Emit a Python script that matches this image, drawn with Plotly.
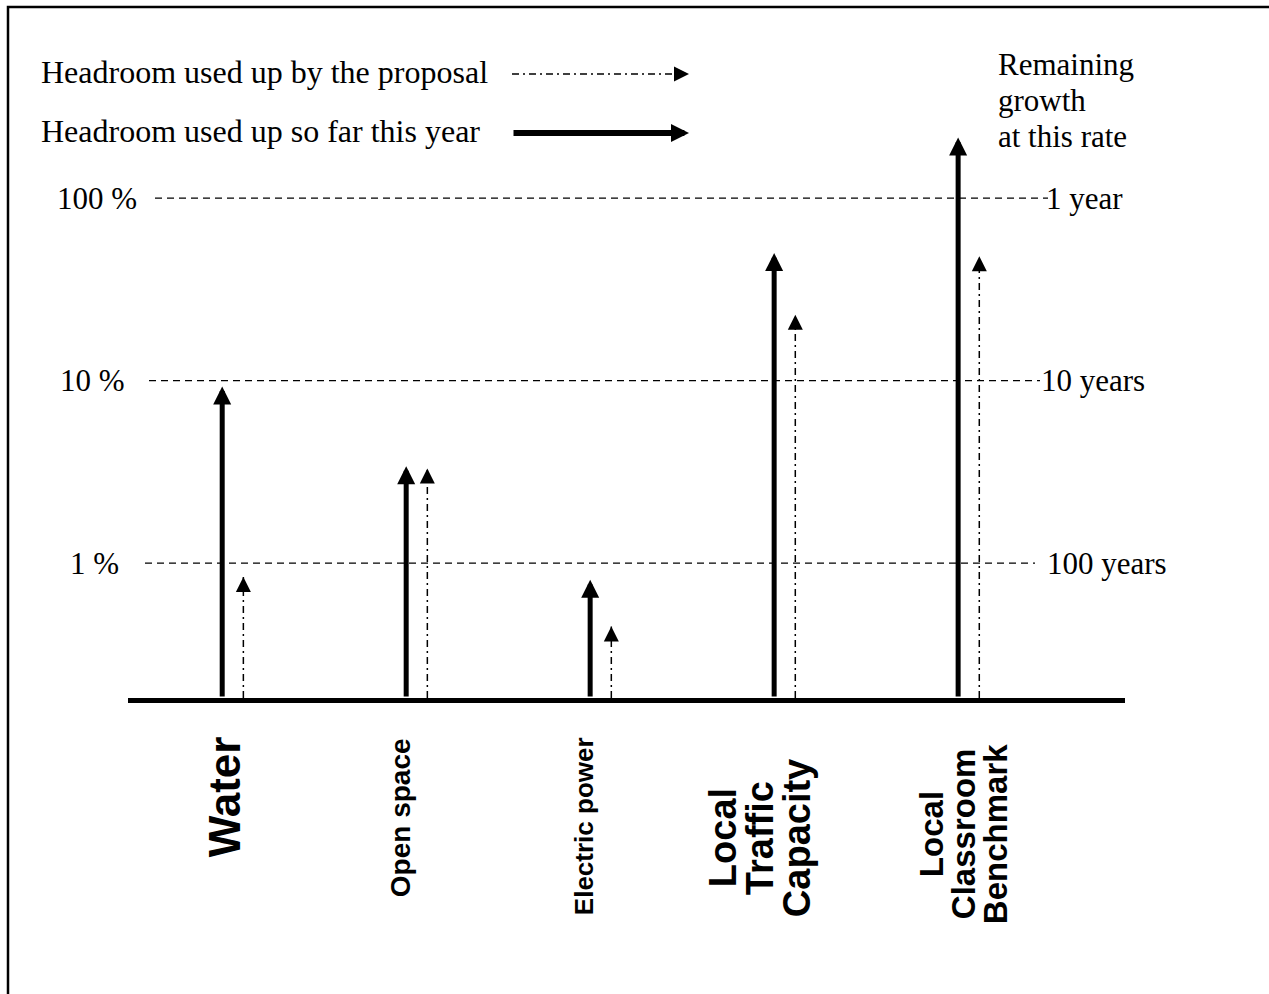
import numpy as np
import plotly.graph_objects as go

# ---------------- data ----------------
categories = ["Water", "Open space", "Electric power",
              "Local<br>Traffic<br>Capacity", "Local<br>Classroom<br>Benchmark"]
used_so_far = [9.3, 3.4, 0.81, 50, 215]        # % of headroom used so far this year
used_by_proposal = [0.84, 3.3, 0.45, 23, 48]    # % of headroom used by the proposal
grid_values = [1, 10, 100]
pct_labels = ["1 %", "10 %", "100 %"]
year_labels = ["100 years", "10 years", "1 year"]
legend_labels = ["Headroom used up by the proposal", "Headroom used up so far this year"]
right_title = ["Remaining", "growth", "at this rate"]

# ---------------- layout geometry ----------------
W, H = 1269, 994
ML, MR, MT, MB = 128, 144, 100, 296
PW, PH = W - ML - MR, H - MT - MB
Y_RANGE = [-0.7388, 2.5378]
X_RANGE = [-0.512, 4.907]
BASE = 10 ** Y_RANGE[0]
DX = 0.115  # offset of proposal arrow from category centre

def pxx(x):
    return (x - ML) / PW

def pxy(y):
    return (H - MB - y) / PH

SERIF = "Liberation Serif, Times New Roman, serif"
SANS = "Liberation Sans, Arial, sans-serif"
DASHDOT = "7px,4px,2px,4px"

fig = go.Figure()
shapes = []
annotations = []

# proposal stems (dash-dot)
for i, v in enumerate(used_by_proposal):
    fig.add_trace(go.Scatter(x=[i + DX, i + DX], y=[BASE, v], mode="lines",
                             line=dict(color="black", width=1.5, dash=DASHDOT),
                             hoverinfo="skip", showlegend=False))
    annotations.append(dict(x=i + DX, y=np.log10(v), xref="x", yref="y", text="",
                            showarrow=True, ax=0, ay=15, axref="pixel", ayref="pixel",
                            arrowhead=2, arrowwidth=1.5, arrowsize=2, arrowcolor="black",
                            font=dict(size=1)))

# used-so-far arrows (solid)
for i, v in enumerate(used_so_far):
    annotations.append(dict(x=i, y=np.log10(v), xref="x", yref="y", text="",
                            showarrow=True, ax=i, ay=np.log10(BASE), axref="x", ayref="y",
                            arrowhead=2, arrowwidth=5, arrowsize=0.72, arrowcolor="black",
                            font=dict(size=1)))

# dashed reference lines
grid_x = {1: (145, 1035), 10: (149, 1040), 100: (155, 1048)}
for g in grid_values:
    x0, x1 = grid_x[g]
    shapes.append(dict(type="line", xref="paper", yref="y", x0=pxx(x0), x1=pxx(x1),
                       y0=g, y1=g, line=dict(color="black", width=1.4, dash="7px,5px")))

# left labels
left_right_edge = {1: 121, 10: 127, 100: 139}
for g, t in zip(grid_values, pct_labels):
    annotations.append(dict(x=0, xref="paper", xshift=left_right_edge[g] - ML,
                            y=np.log10(g), yref="y", text=t, showarrow=False,
                            xanchor="right", yanchor="middle",
                            font=dict(family=SERIF, size=31, color="black")))
# right labels
right_left_edge = {1: 1045, 10: 1039, 100: 1044}
for g, t in zip(grid_values, year_labels):
    annotations.append(dict(x=1, xref="paper", xshift=right_left_edge[g] - (ML + PW),
                            y=np.log10(g), yref="y", text=t, showarrow=False,
                            xanchor="left", yanchor="middle",
                            font=dict(family=SERIF, size=31, color="black")))

# right title
for k, t in enumerate(right_title):
    annotations.append(dict(x=pxx(996), xref="paper", y=pxy([64, 100, 137][k]), yref="paper",
                            text=t, showarrow=False, xanchor="left", yanchor="middle",
                            font=dict(family=SERIF, size=31, color="black")))

# legend
leg_y = [74, 133]
for k, t in enumerate(legend_labels):
    annotations.append(dict(x=pxx(39), xref="paper", y=pxy(leg_y[k] - 2), yref="paper",
                            text=t, showarrow=False, xanchor="left", yanchor="middle",
                            font=dict(family=SERIF, size=32, color="black")))
shapes.append(dict(type="line", xref="paper", yref="paper", x0=pxx(512), x1=pxx(676),
                   y0=pxy(leg_y[0]), y1=pxy(leg_y[0]),
                   line=dict(color="black", width=1.5, dash=DASHDOT)))
annotations.append(dict(x=pxx(689), xref="paper", y=pxy(leg_y[0]), yref="paper", text="",
                        showarrow=True, ax=-15, ay=0, arrowhead=2, arrowwidth=1.5,
                        arrowsize=2, arrowcolor="black", font=dict(size=1)))
annotations.append(dict(x=pxx(689), xref="paper", y=pxy(leg_y[1]), yref="paper", text="",
                        showarrow=True, ax=-177, ay=0, arrowhead=2, arrowwidth=6,
                        arrowsize=0.6, arrowcolor="black", font=dict(size=1)))

# category labels (rotated)
label_style = [
    dict(size=44, shift=2, yc=797, gap=0),
    dict(size=28, shift=-6, yc=818, gap=0),
    dict(size=26, shift=-6, yc=826, gap=0),
    dict(size=38, shift=-14, yc=838, gap=37),
    dict(size=33, shift=5, yc=834, gap=32),
]
for i, (cat, st) in enumerate(zip(categories, label_style)):
    lines = cat.split("<br>")
    n = len(lines)
    for k, ln in enumerate(lines):
        annotations.append(dict(x=i, xref="x", y=pxy(st["yc"]), yref="paper",
                                xshift=st["shift"] + (k - (n - 1) / 2) * st["gap"],
                                text=ln, showarrow=False, textangle=-90,
                                xanchor="center", yanchor="middle",
                                font=dict(family=SANS, size=st["size"],
                                          color="black", weight="bold")))

# outer border
shapes.append(dict(type="rect", xref="paper", yref="paper",
                   x0=pxx(8), x1=pxx(W + 10), y0=pxy(H + 10), y1=pxy(7),
                   line=dict(color="black", width=2.5), fillcolor="rgba(0,0,0,0)"))

fig.update_layout(
    width=W, height=H,
    margin=dict(l=ML, r=MR, t=MT, b=MB, pad=0),
    paper_bgcolor="white", plot_bgcolor="white",
    showlegend=False,
    xaxis=dict(range=X_RANGE, showgrid=False, zeroline=False, showticklabels=False,
               ticks="", showline=True, linewidth=5, linecolor="black", fixedrange=True),
    yaxis=dict(type="log", range=Y_RANGE, showgrid=False, zeroline=False,
               showticklabels=False, ticks="", showline=False, fixedrange=True),
    shapes=shapes,
    annotations=annotations,
)

fig.write_html("out.html", config={"displayModeBar": False},
               post_script="document.body.style.margin='0px';document.body.style.overflow='hidden';")
